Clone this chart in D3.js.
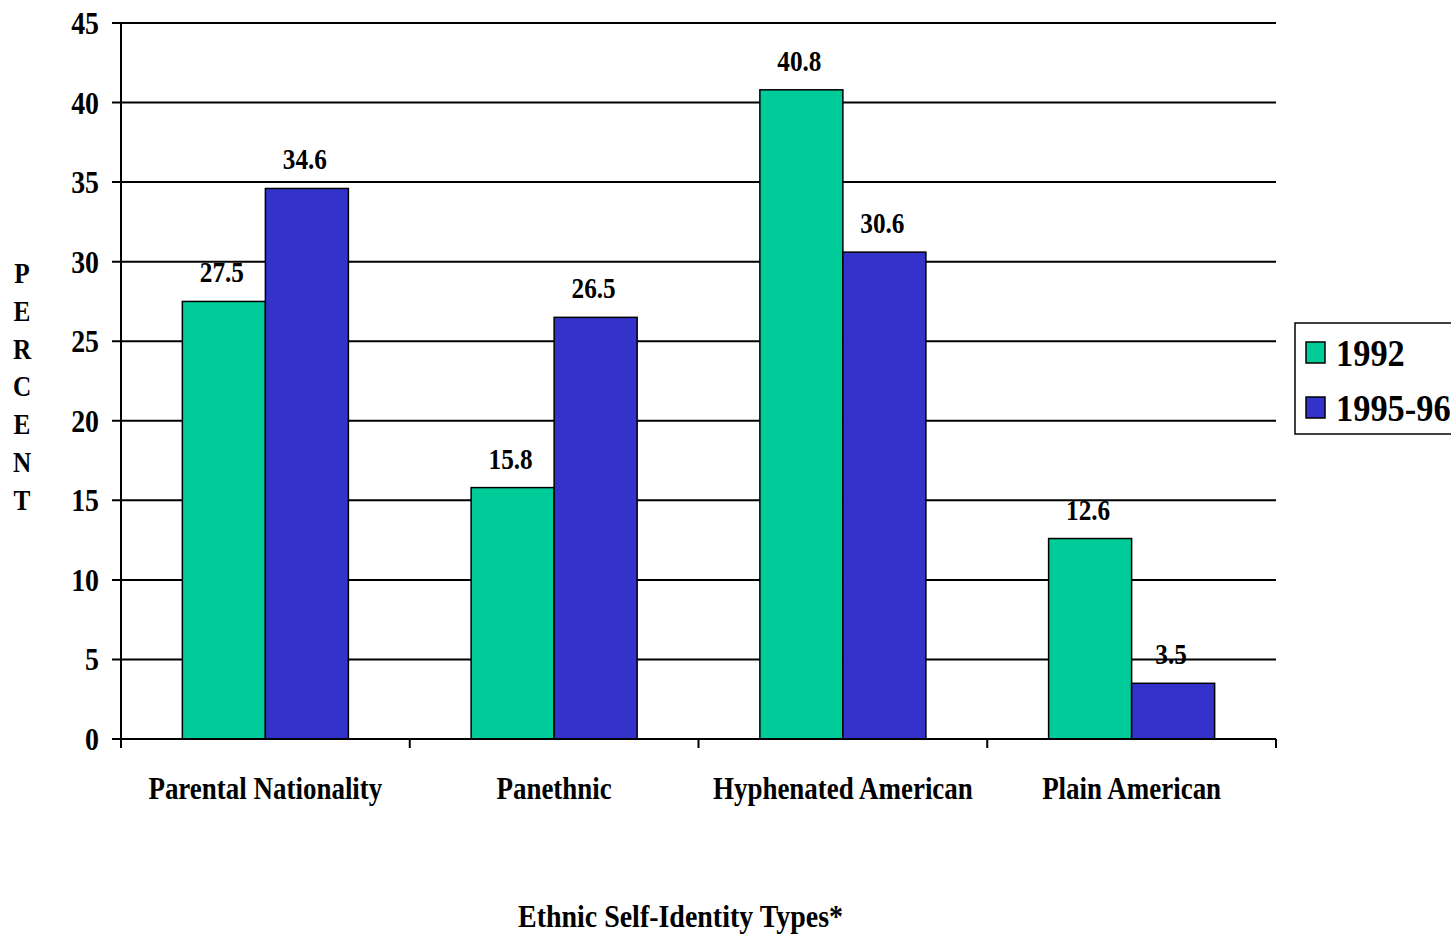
<!DOCTYPE html>
<html>
<head>
<meta charset="utf-8">
<script src="https://cdn.jsdelivr.net/npm/d3@7"></script>
<style>
  html, body { margin: 0; padding: 0; background: #fff; }
</style>
</head>
<body>
<svg id="chart" width="1451" height="934"></svg>
<script>
// Ethnic self-identity types, share of respondents in each survey wave
const categories = ["Parental Nationality", "Panethnic", "Hyphenated American", "Plain American"];
const seriesNames = ["1992", "1995-96"];
const values1992 = [27.5, 15.8, 40.8, 12.6];
const values1995 = [34.6, 26.5, 30.6, 3.5];
const yTicks = [0, 5, 10, 15, 20, 25, 30, 35, 40, 45];
const seriesColors = ["#00CC99", "#3333CC"];
const yTitle = "PERCENT";
const xTitle = "Ethnic Self-Identity Types*";

const FONT = "'Liberation Serif', 'DejaVu Serif', serif";
const svg = d3.select("#chart");
const plot = { left: 121, right: 1276, top: 23, bottom: 739 };
const SX = 0.87; // condensed type

function label(sel) {
  return sel.attr("font-family", FONT).attr("font-weight", "bold").attr("fill", "#000");
}

const x0 = d3.scaleBand().domain(categories).range([plot.left, plot.right]).paddingInner(0).paddingOuter(0);
const groupW = x0.bandwidth() * 0.575;
const x1 = d3.scaleBand().domain(seriesNames).range([0, groupW]).padding(0);
const y = d3.scaleLinear().domain([0, 45]).range([plot.bottom, plot.top]);

// horizontal gridlines
svg.append("g").selectAll("line").data(yTicks).join("line")
  .attr("x1", plot.left - 9).attr("x2", plot.right)
  .attr("y1", d => y(d)).attr("y2", d => y(d))
  .attr("stroke", "#000").attr("stroke-width", 2);

// y tick labels
svg.append("g").selectAll("text").data(yTicks).join("text")
  .call(label)
  .attr("transform", d => `translate(99,${y(d) + 11}) scale(${SX},1)`)
  .attr("text-anchor", "end")
  .attr("font-size", 32)
  .text(d => d);

// y axis line
svg.append("line")
  .attr("x1", plot.left).attr("x2", plot.left)
  .attr("y1", plot.top).attr("y2", plot.bottom)
  .attr("stroke", "#000").attr("stroke-width", 2);

// bars
const rows = categories.map((c, i) => ({ cat: c, vals: [values1992[i], values1995[i]] }));
const groups = svg.append("g").selectAll("g").data(rows).join("g")
  .attr("transform", d => `translate(${x0(d.cat) + (x0.bandwidth() - groupW) / 2},0)`);

groups.selectAll("rect").data(d => d.vals.map((v, j) => ({ v, s: seriesNames[j], j })))
  .join("rect")
  .attr("x", d => x1(d.s))
  .attr("width", x1.bandwidth())
  .attr("y", d => y(d.v))
  .attr("height", d => y(0) - y(d.v))
  .attr("fill", d => seriesColors[d.j])
  .attr("stroke", "#000").attr("stroke-width", 1.5);

groups.selectAll("text").data(d => d.vals.map((v, j) => ({ v, s: seriesNames[j], j })))
  .join("text")
  .call(label)
  .attr("transform", d => `translate(${x1(d.s) + x1.bandwidth() / 2 - 2},${y(d.v) - 19}) scale(${SX},1)`)
  .attr("text-anchor", "middle")
  .attr("font-size", 29)
  .text(d => d.v.toFixed(1));

// x axis line and ticks
svg.append("line")
  .attr("x1", plot.left - 9).attr("x2", plot.right)
  .attr("y1", plot.bottom).attr("y2", plot.bottom)
  .attr("stroke", "#000").attr("stroke-width", 2);
const bounds = categories.map(c => x0(c)).concat([plot.right]);
svg.append("g").selectAll("line").data(bounds).join("line")
  .attr("x1", d => d).attr("x2", d => d)
  .attr("y1", plot.bottom).attr("y2", plot.bottom + 9)
  .attr("stroke", "#000").attr("stroke-width", 2);

// category labels
svg.append("g").selectAll("text").data(categories).join("text")
  .call(label)
  .attr("transform", d => `translate(${x0(d) + x0.bandwidth() / 2},799) scale(${SX},1)`)
  .attr("text-anchor", "middle")
  .attr("font-size", 31)
  .text(d => d);

// y axis title, stacked letters
svg.append("g").selectAll("text").data(yTitle.split("")).join("text")
  .call(label)
  .attr("transform", (d, i) => `translate(22,${283 + i * 37.8}) scale(${SX},1)`)
  .attr("text-anchor", "middle")
  .attr("font-size", 29)
  .text(d => d);

// x axis title
svg.append("text")
  .call(label)
  .attr("x", 518).attr("y", 927)
  .attr("font-size", 31)
  .attr("textLength", 325)
  .attr("lengthAdjust", "spacingAndGlyphs")
  .text(xTitle);

// legend
const legend = svg.append("g");
legend.append("rect")
  .attr("x", 1295).attr("y", 323).attr("width", 170).attr("height", 111)
  .attr("fill", "#fff").attr("stroke", "#000").attr("stroke-width", 1.5);
seriesNames.forEach((s, i) => {
  legend.append("rect")
    .attr("x", 1306).attr("y", 342 + i * 55).attr("width", 19).attr("height", 21)
    .attr("fill", seriesColors[i]).attr("stroke", "#000").attr("stroke-width", 1.5);
  legend.append("text")
    .call(label)
    .attr("transform", `translate(1336,${366 + i * 55}) scale(0.93,1)`)
    .attr("font-size", 37)
    .text(s);
});
</script>
</body>
</html>
